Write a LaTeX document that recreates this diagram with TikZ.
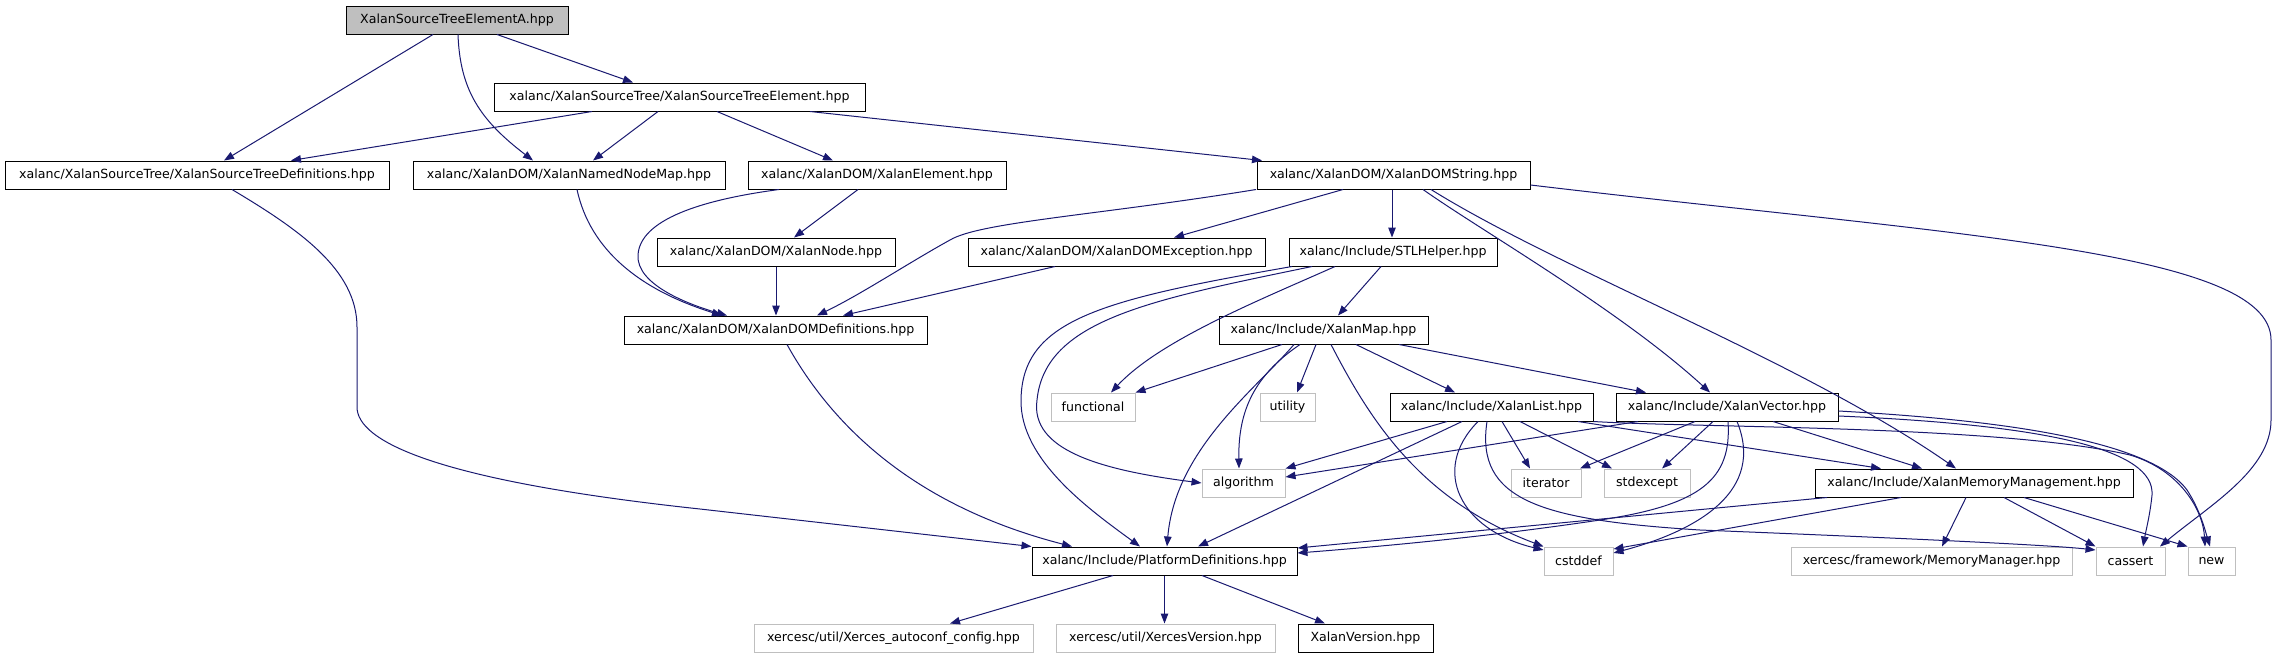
\documentclass[tikz,border=0pt]{standalone}
\usepackage{fontspec}
\newfontfamily\dvs{DejaVu Sans}
\usetikzlibrary{arrows.meta}
\definecolor{edgec}{RGB}{25,25,112}
\definecolor{extc}{RGB}{191,191,191}
\definecolor{topc}{RGB}{191,191,191}
\begin{document}
\begin{tikzpicture}[x=1pt,y=-1pt,
  base/.style={rectangle, line width=1pt, minimum height=28pt, inner xsep=1pt, inner ysep=0pt, font={\dvs\fontsize{12.6pt}{15pt}\selectfont}},
  doc/.style={base, draw=black, fill=white},
  ext/.style={base, draw=extc, fill=white},
  topn/.style={base, draw=black, fill=topc},
  e/.style={draw=edgec, line width=1pt, -{Triangle[length=10pt,width=7.5pt]}}]
\useasboundingbox (0,0) rectangle (2277,659);
% nodes
\node[topn, minimum width=222pt] (A) at (457,20) {XalanSourceTreeElementA.hpp};
\node[doc, minimum width=371pt] (STE) at (679.5,97) {xalanc/XalanSourceTree/XalanSourceTreeElement.hpp};
\node[doc, minimum width=384pt] (STD) at (197,175) {xalanc/XalanSourceTree/XalanSourceTreeDefinitions.hpp};
\node[doc, minimum width=312pt] (NNM) at (569,175) {xalanc/XalanDOM/XalanNamedNodeMap.hpp};
\node[doc, minimum width=258pt] (XE) at (877,175) {xalanc/XalanDOM/XalanElement.hpp};
\node[doc, minimum width=273pt] (DS) at (1393.5,175) {xalanc/XalanDOM/XalanDOMString.hpp};
\node[doc, minimum width=238pt] (XN) at (776,252) {xalanc/XalanDOM/XalanNode.hpp};
\node[doc, minimum width=297pt] (DE) at (1116.5,252) {xalanc/XalanDOM/XalanDOMException.hpp};
\node[doc, minimum width=208pt] (STL) at (1393,252) {xalanc/Include/STLHelper.hpp};
\node[doc, minimum width=303pt] (DD) at (775.5,330) {xalanc/XalanDOM/XalanDOMDefinitions.hpp};
\node[doc, minimum width=209pt] (MAP) at (1323.5,330) {xalanc/Include/XalanMap.hpp};
\node[ext, minimum width=84pt] (FUN) at (1093,407) {functional};
\node[ext, minimum width=55pt] (UTI) at (1287.5,407) {utility};
\node[doc, minimum width=203pt] (LIST) at (1491.5,407) {xalanc/Include/XalanList.hpp};
\node[doc, minimum width=222pt] (VEC) at (1727,407) {xalanc/Include/XalanVector.hpp};
\node[ext, minimum width=83pt] (ALG) at (1243.5,483) {algorithm};
\node[ext, minimum width=70pt] (ITE) at (1546,483) {iterator};
\node[ext, minimum width=86pt] (STDX) at (1647,483) {stdexcept};
\node[doc, minimum width=318pt] (MM) at (1974,483) {xalanc/Include/XalanMemoryManagement.hpp};
\node[doc, minimum width=265pt] (PD) at (1164.5,561) {xalanc/Include/PlatformDefinitions.hpp};
\node[ext, minimum width=69pt] (CST) at (1578.5,561) {cstddef};
\node[ext, minimum width=281pt] (MMGR) at (1931.5,561) {xercesc/framework/MemoryManager.hpp};
\node[ext, minimum width=69pt] (CAS) at (2130.5,561) {cassert};
\node[ext, minimum width=47pt] (NEW) at (2211.5,561) {new};
\node[ext, minimum width=279pt] (XAC) at (893.5,638) {xercesc/util/Xerces\_autoconf\_config.hpp};
\node[ext, minimum width=219pt] (XV) at (1165.5,638) {xercesc/util/XercesVersion.hpp};
\node[doc, minimum width=135pt] (XVER) at (1365.5,638) {XalanVersion.hpp};
% edges
\draw[e] (A.south -| 433,0) -- (STD.north -| 224,0);
\draw[e] (A.south -| 458,0) .. controls (460,90) and (480,120) .. (NNM.north -| 533,0);
\draw[e] (A.south -| 497,0) -- (STE.north -| 633,0);
\draw[e] (STE.south -| 592,0) -- (STD.north -| 291,0);
\draw[e] (STE.south -| 658,0) -- (NNM.north -| 593,0);
\draw[e] (STE.south -| 717,0) -- (XE.north -| 833,0);
\draw[e] (STE.south -| 810,0) -- (DS.north -| 1262,0);
\draw[e] (STD.south -| 232,0) .. controls (300,230) and (357,270) .. (357,327) -- (357,407) .. controls (357,440) and (430,480) .. (700,509) -- (PD.north west);
\draw[e] (DD.south -| 787,0) .. controls (840,440) and (930,510) .. (PD.north -| 1072,0);
\draw[e] (NNM.south -| 577,0) .. controls (590,250) and (640,290) .. (DD.north -| 722,0);
\draw[e] (XE.south -| 779,0) .. controls (700,200) and (640,220) .. (638,255) .. controls (636,285) and (690,305) .. (DD.north -| 727,0);
\draw[e] (XE.south -| 858,0) -- (XN.north -| 794,0);
\draw[e] (XN.south) -- (XN.south |- DD.north);
\draw[e] (DS.south -| 1256,0) .. controls (1100,215) and (980,222) .. (950,240) .. controls (910,262) and (860,295) .. (DD.north -| 817,0);
\draw[e] (DS.south -| 1343,0) -- (DE.north -| 1174,0);
\draw[e] (DS.south -| 1392,0) -- (STL.north -| 1392,0);
\draw[e] (DS.south -| 1423,0) .. controls (1480,230) and (1620,310) .. (VEC.north -| 1710,0);
\draw[e] (DS.south -| 1431,0) .. controls (1560,270) and (1800,360) .. (MM.north -| 1956,0);
\draw[e] (DS.east |- 0,185) .. controls (1950,235) and (2271,250) .. (2271,340) -- (2271,420) .. controls (2271,470) and (2210,505) .. (CAS.north -| 2160,0);
\draw[e] (DE.south -| 1055,0) -- (DD.north -| 843,0);
\draw[e] (STL.south -| 1381,0) -- (MAP.north -| 1338,0);
\draw[e] (STL.south -| 1335,0) .. controls (1260,300) and (1160,340) .. (FUN.north -| 1111,0);
\draw[e] (STL.south -| 1312,0) .. controls (1150,300) and (1045,320) .. (1037,400) .. controls (1030,450) and (1100,470) .. (ALG.west);
\draw[e] (STL.south -| 1292,0) .. controls (1100,300) and (1022,320) .. (1021,400) .. controls (1020,460) and (1090,510) .. (PD.north -| 1140,0);
\draw[e] (MAP.south -| 1282,0) -- (FUN.north east);
\draw[e] (MAP.south -| 1316,0) -- (UTI.north -| 1297,0);
\draw[e] (MAP.south -| 1300,0) .. controls (1255,375) and (1238,410) .. (ALG.north -| 1239,0);
\draw[e] (MAP.south -| 1294,0) .. controls (1255,390) and (1175,450) .. (PD.north -| 1167,0);
\draw[e] (MAP.south -| 1331,0) .. controls (1370,420) and (1420,500) .. (CST.north west);
\draw[e] (MAP.south -| 1356,0) -- (LIST.north -| 1455,0);
\draw[e] (MAP.south -| 1399,0) -- (VEC.north -| 1646,0);
\draw[e] (LIST.south -| 1447,0) -- (ALG.north east);
\draw[e] (LIST.south -| 1462,0) -- (PD.north -| 1198,0);
\draw[e] (LIST.south -| 1478,0) .. controls (1430,470) and (1460,530) .. (CST.west |- 0,550);
\draw[e] (LIST.south -| 1487,0) .. controls (1475,500) and (1540,520) .. (1700,530) .. controls (1900,538) and (2050,545) .. (CAS.west |- 0,550);
\draw[e] (LIST.south -| 1502,0) -- (ITE.north -| 1530,0);
\draw[e] (LIST.south -| 1520,0) -- (STDX.north -| 1612,0);
\draw[e] (LIST.south -| 1578,0) -- (MM.north -| 1881,0);
\draw[e] (LIST.south east) .. controls (1700,428) and (2000,425) .. (2130,455) .. controls (2180,470) and (2203,510) .. (NEW.north -| 2205,0);
\draw[e] (VEC.south -| 1638,0) -- (ALG.east |- 0,477);
\draw[e] (VEC.south -| 1695,0) -- (ITE.north -| 1580,0);
\draw[e] (VEC.south -| 1713,0) -- (STDX.north -| 1662,0);
\draw[e] (VEC.south -| 1728,0) .. controls (1732,480) and (1700,505) .. (1600,520) .. controls (1500,535) and (1400,545) .. (PD.east |- 0,553);
\draw[e] (VEC.south -| 1737,0) .. controls (1765,490) and (1700,530) .. (CST.east |- 0,553);
\draw[e] (VEC.south -| 1773,0) -- (MM.north -| 1922,0);
\draw[e] (VEC.east |- 0,416) .. controls (2050,425) and (2155,450) .. (2152,495) .. controls (2150,515) and (2146,530) .. (CAS.north -| 2143,0);
\draw[e] (VEC.east |- 0,411) .. controls (2000,420) and (2150,440) .. (2187,490) .. controls (2200,510) and (2205,530) .. (NEW.north -| 2210,0);
\draw[e] (MM.south -| 1827,0) -- (PD.east |- 0,548);
\draw[e] (MM.south -| 1901,0) -- (CST.east |- 0,549);
\draw[e] (MM.south -| 1966,0) -- (MMGR.north -| 1942,0);
\draw[e] (MM.south -| 2004,0) -- (CAS.north west);
\draw[e] (MM.south -| 2024,0) -- (NEW.north west);
\draw[e] (PD.south -| 1113,0) -- (XAC.north -| 950,0);
\draw[e] (PD.south) -- (PD.south |- XV.north);
\draw[e] (PD.south -| 1202,0) -- (XVER.north -| 1325,0);
\end{tikzpicture}
\end{document}
